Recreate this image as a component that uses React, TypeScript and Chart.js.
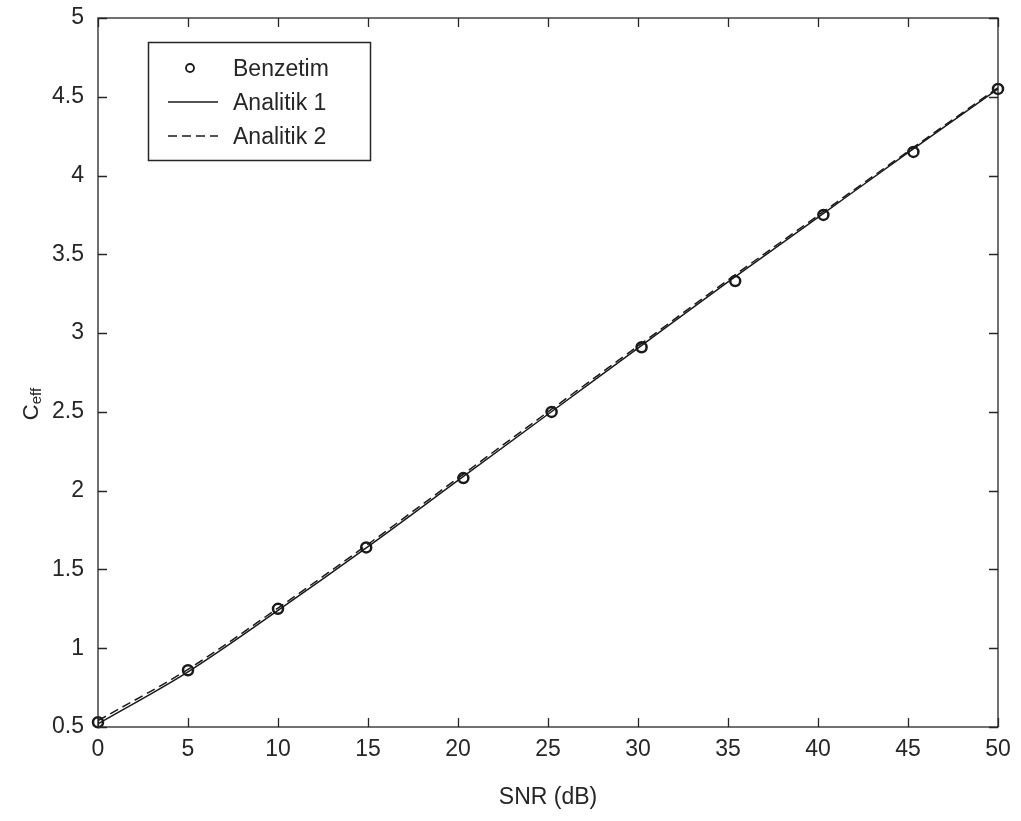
import React, { useEffect, useRef } from "react";
import { Chart, registerables } from "chart.js";

Chart.register(...registerables);

const lineX = [0, 5, 10, 15, 20, 25, 30, 35, 40, 45, 50];
const analitik1 = [0.52, 0.85, 1.24, 1.645, 2.065, 2.485, 2.905, 3.325, 3.735, 4.145, 4.55];
const analitik2 = [0.54, 0.866, 1.255, 1.66, 2.08, 2.5, 2.918, 3.337, 3.746, 4.154, 4.558];
const simX = [0, 5, 10, 14.9, 20.3, 25.2, 30.2, 35.4, 40.3, 45.3, 50];
const benzetim = [0.53, 0.86, 1.25, 1.64, 2.08, 2.5, 2.91, 3.33, 3.75, 4.15, 4.55];
const xTicks = [0, 5, 10, 15, 20, 25, 30, 35, 40, 45, 50];
const yTicks = [0.5, 1, 1.5, 2, 2.5, 3, 3.5, 4, 4.5, 5];
const legendLabels = ["Benzetim", "Analitik 1", "Analitik 2"];

const INK = "#262626";
const FONT = "'Liberation Sans', Arial, sans-serif";

const framePlugin = {
  id: "matlabFrame",
  afterDraw(chart: any) {
    const { ctx, chartArea: a, scales } = chart;
    const xs = scales.x;
    const ys = scales.y;
    ctx.save();
    ctx.strokeStyle = INK;
    ctx.lineWidth = 1.3;
    ctx.strokeRect(a.left, a.top, a.right - a.left, a.bottom - a.top);
    const tl = 9;
    ctx.beginPath();
    xTicks.forEach((v) => {
      const px = Math.round(xs.getPixelForValue(v)) + 0.5;
      ctx.moveTo(px, a.bottom);
      ctx.lineTo(px, a.bottom - tl);
      ctx.moveTo(px, a.top);
      ctx.lineTo(px, a.top + tl);
    });
    yTicks.forEach((v) => {
      const py = Math.round(ys.getPixelForValue(v)) + 0.5;
      ctx.moveTo(a.left, py);
      ctx.lineTo(a.left + tl, py);
      ctx.moveTo(a.right, py);
      ctx.lineTo(a.right - tl, py);
    });
    ctx.stroke();

    // y axis title C_eff
    ctx.fillStyle = INK;
    ctx.translate(38, 404);
    ctx.rotate(-Math.PI / 2);
    ctx.font = `22px ${FONT}`;
    ctx.textBaseline = "alphabetic";
    ctx.textAlign = "left";
    const cw = ctx.measureText("C").width;
    ctx.font = `15px ${FONT}`;
    const ew = ctx.measureText("eff").width;
    const total = cw + ew;
    ctx.font = `22px ${FONT}`;
    ctx.fillText("C", -total / 2, 0);
    ctx.font = `15px ${FONT}`;
    ctx.fillText("eff", -total / 2 + cw, 3);
    ctx.restore();

    // legend
    ctx.save();
    const bx = 148, by = 42, bw = 222, bh = 118;
    ctx.fillStyle = "#ffffff";
    ctx.fillRect(bx, by, bw, bh);
    ctx.strokeStyle = INK;
    ctx.lineWidth = 1.5;
    ctx.strokeRect(bx + 0.5, by + 0.5, bw, bh);
    const rows = [68, 102, 136];
    ctx.font = `23px ${FONT}`;
    ctx.fillStyle = INK;
    ctx.textBaseline = "middle";
    ctx.textAlign = "left";
    legendLabels.forEach((t, i) => ctx.fillText(t, 233, rows[i] + 2));
    ctx.strokeStyle = "#1a1a1a";
    ctx.lineWidth = 1.8;
    ctx.beginPath();
    ctx.arc(190, rows[0], 4, 0, Math.PI * 2);
    ctx.stroke();
    ctx.lineWidth = 1.5;
    ctx.beginPath();
    ctx.moveTo(168, rows[1]);
    ctx.lineTo(218, rows[1]);
    ctx.stroke();
    ctx.setLineDash([9, 5]);
    ctx.beginPath();
    ctx.moveTo(168, rows[2]);
    ctx.lineTo(218, rows[2]);
    ctx.stroke();
    ctx.restore();
  },
};

export default function App() {
  const ref = useRef<HTMLCanvasElement | null>(null);
  useEffect(() => {
    if (!ref.current) return;
    const chart = new Chart(ref.current, {
      type: "scatter",
      data: {
        datasets: [
          {
            label: legendLabels[0],
            data: simX.map((x, i) => ({ x, y: benzetim[i] })),
            showLine: false,
            pointRadius: 5,
            pointBorderWidth: 2.5,
            pointBorderColor: "#1a1a1a",
            pointBackgroundColor: "rgba(0,0,0,0)",
          },
          {
            label: legendLabels[1],
            data: lineX.map((x, i) => ({ x, y: analitik1[i] })),
            showLine: true,
            pointRadius: 0,
            borderColor: "#1a1a1a",
            borderWidth: 1.5,
            cubicInterpolationMode: "monotone",
          },
          {
            label: legendLabels[2],
            data: lineX.map((x, i) => ({ x, y: analitik2[i] })),
            showLine: true,
            pointRadius: 0,
            borderColor: "#1a1a1a",
            borderWidth: 1.5,
            borderDash: [9, 5],
            cubicInterpolationMode: "monotone",
          },
        ],
      },
      options: {
        responsive: false,
        animation: false,
        clip: false,
        layout: { padding: { left: 0, top: 18, right: 23, bottom: 0 } },
        plugins: { legend: { display: false }, tooltip: { enabled: false } },
        scales: {
          x: {
            type: "linear",
            min: 0,
            max: 50,
            grid: { display: false, drawTicks: false },
            border: { display: false },
            ticks: {
              stepSize: 5,
              padding: 9,
              color: INK,
              font: { family: FONT, size: 23 },
              maxRotation: 0,
              callback: (v: any) => String(v),
            },
            title: {
              display: true,
              text: "SNR (dB)",
              color: INK,
              font: { family: FONT, size: 23 },
              padding: { top: 0, bottom: 10 },
            },
            afterFit: (s: any) => {
              s.height = 94;
              s.paddingLeft = 0;
              s.paddingRight = 0;
            },
          },
          y: {
            type: "linear",
            min: 0.5,
            max: 5,
            grid: { display: false, drawTicks: false },
            border: { display: false },
            ticks: {
              stepSize: 0.5,
              padding: 14,
              color: INK,
              font: { family: FONT, size: 23 },
              callback: (v: any) => String(v),
            },
            afterFit: (s: any) => {
              s.width = 98;
              s.paddingTop = 0;
              s.paddingBottom = 0;
            },
          },
        },
      },
      plugins: [framePlugin],
    });
    return () => chart.destroy();
  }, []);
  return (
    <div style={{ position: "absolute", left: 0, top: 0, width: 1021, height: 821, background: "#fff" }}>
      <canvas ref={ref} width={1021} height={821} />
    </div>
  );
}
